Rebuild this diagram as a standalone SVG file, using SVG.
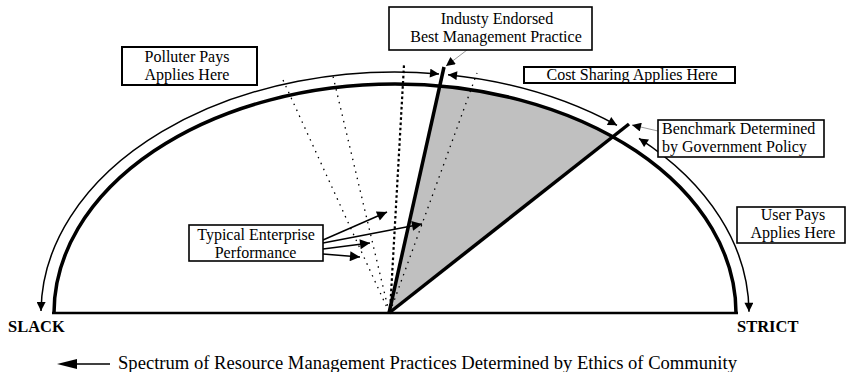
<svg xmlns="http://www.w3.org/2000/svg" width="850" height="372" viewBox="0 0 850 372">
<style>
text{font-family:"Liberation Serif","Times New Roman",serif;font-size:16px;fill:#000}
.c{text-anchor:middle}
.b{font-weight:bold;font-size:16.5px}
.box{fill:#fff;stroke:#000}
.dotf{stroke:#000;stroke-width:1.3;stroke-dasharray:1.5 5;fill:none}
.dotb{stroke:#000;stroke-width:2.2;stroke-dasharray:2.6 2.6;fill:none}
.arc{fill:none;stroke:#000;stroke-width:1.5;marker-start:url(#ah);marker-end:url(#ah)}
.arr{stroke:#000;stroke-width:1.5;marker-end:url(#ahL)}
.lead{stroke:#999;stroke-width:1;marker-end:url(#ah)}
.thick{stroke:#000;stroke-width:3.5;stroke-linecap:butt}
</style>
<defs>
<marker id="ah" viewBox="0 0 10 10" refX="10" refY="5" markerUnits="userSpaceOnUse" markerWidth="10" markerHeight="9" orient="auto-start-reverse"><path d="M0,0 L10,5 L0,10 z" fill="#000"/></marker>
<marker id="ahL" viewBox="0 0 10 10" refX="10" refY="5" markerUnits="userSpaceOnUse" markerWidth="12" markerHeight="10" orient="auto"><path d="M0,0 L10,5 L0,10 z" fill="#000"/></marker>
</defs>
<rect width="850" height="372" fill="#fff"/>

<g id="wedge">
<path d="M389,313 L439.8,85.9 A341,229 0 0,1 612.7,136.9 Z" fill="#c0c0c0"/>
</g>

<g id="dotted">
<line x1="389" y1="312" x2="283" y2="80" class="dotf"/>
<line x1="389" y1="312" x2="332" y2="72" class="dotf"/>
<line x1="390" y1="312" x2="404" y2="65" class="dotb"/>
<line x1="390" y1="312" x2="477" y2="73" class="dotf"/>
</g>

<g id="halfEllipse">
<path d="M54,313 A341,229 0 0,1 736,313" fill="none" stroke="#000" stroke-width="3.5"/>
<line x1="52" y1="313" x2="738" y2="313" stroke="#000" stroke-width="2.5"/>
</g>

<g id="practiceLines">
<line x1="389" y1="313" x2="444" y2="67" class="thick"/>
<line x1="389" y1="313" x2="629" y2="124" class="thick"/>
</g>

<g id="connectors">
<path class="arc" d="M439,73.9 A354,241 0 0,0 41,311"/>
<path class="arc" d="M448,74.7 A354,241 0 0,1 617,125.3"/>
<path class="arc" d="M639,138.4 A354,241 0 0,1 749,311.7"/>
<line class="arr" x1="323" y1="240" x2="387" y2="212"/>
<line class="arr" x1="323" y1="243" x2="422" y2="224"/>
<line class="arr" x1="323" y1="249" x2="370" y2="243"/>
<line class="arr" x1="323" y1="254" x2="360" y2="257"/>
<line class="lead" x1="467" y1="50" x2="446" y2="66"/>
<line class="lead" x1="658" y1="131" x2="632" y2="125"/>
<line x1="76" y1="364" x2="110" y2="364" stroke="#000" stroke-width="1.5"/>
<polygon points="57,364 77,359 77,369" fill="#000"/>
</g>

<g id="polluter">
<rect class="box" x="122" y="47" width="135" height="38" stroke-width="2"/>
<text class="c" x="187" y="61.5">Polluter Pays</text>
<text class="c" x="187" y="79.5">Applies Here</text>
</g>

<g id="industry">
<rect class="box" x="389" y="7" width="203" height="43" stroke-width="1.6"/>
<text class="c" x="497" y="24">Industy Endorsed</text>
<text class="c" x="496" y="42">Best Management Practice</text>
</g>

<g id="costSharing">
<rect class="box" x="524" y="67" width="211" height="16" stroke-width="2"/>
<text class="c" x="632" y="79.5">Cost Sharing Applies Here</text>
</g>

<g id="benchmark">
<rect class="box" x="658" y="120" width="166" height="37" stroke-width="1.6"/>
<text x="662" y="134">Benchmark Determined</text>
<text x="662" y="152">by Government Policy</text>
</g>

<g id="userPays">
<rect class="box" x="737" y="207" width="108" height="36" stroke-width="1.6"/>
<text class="c" x="793" y="219.5">User Pays</text>
<text class="c" x="793" y="237.5">Applies Here</text>
</g>

<g id="typical">
<rect class="box" x="189" y="225" width="134" height="36" stroke-width="1.6"/>
<text class="c" x="256" y="240">Typical Enterprise</text>
<text class="c" x="255.5" y="258">Performance</text>
</g>

<g id="labels">
<text class="b" x="8" y="332">SLACK</text>
<text class="b" x="737" y="332">STRICT</text>
<text x="118" y="369" style="font-size:18px" textLength="619" lengthAdjust="spacingAndGlyphs">Spectrum of Resource Management Practices Determined by Ethics of Community</text>
</g>
</svg>
